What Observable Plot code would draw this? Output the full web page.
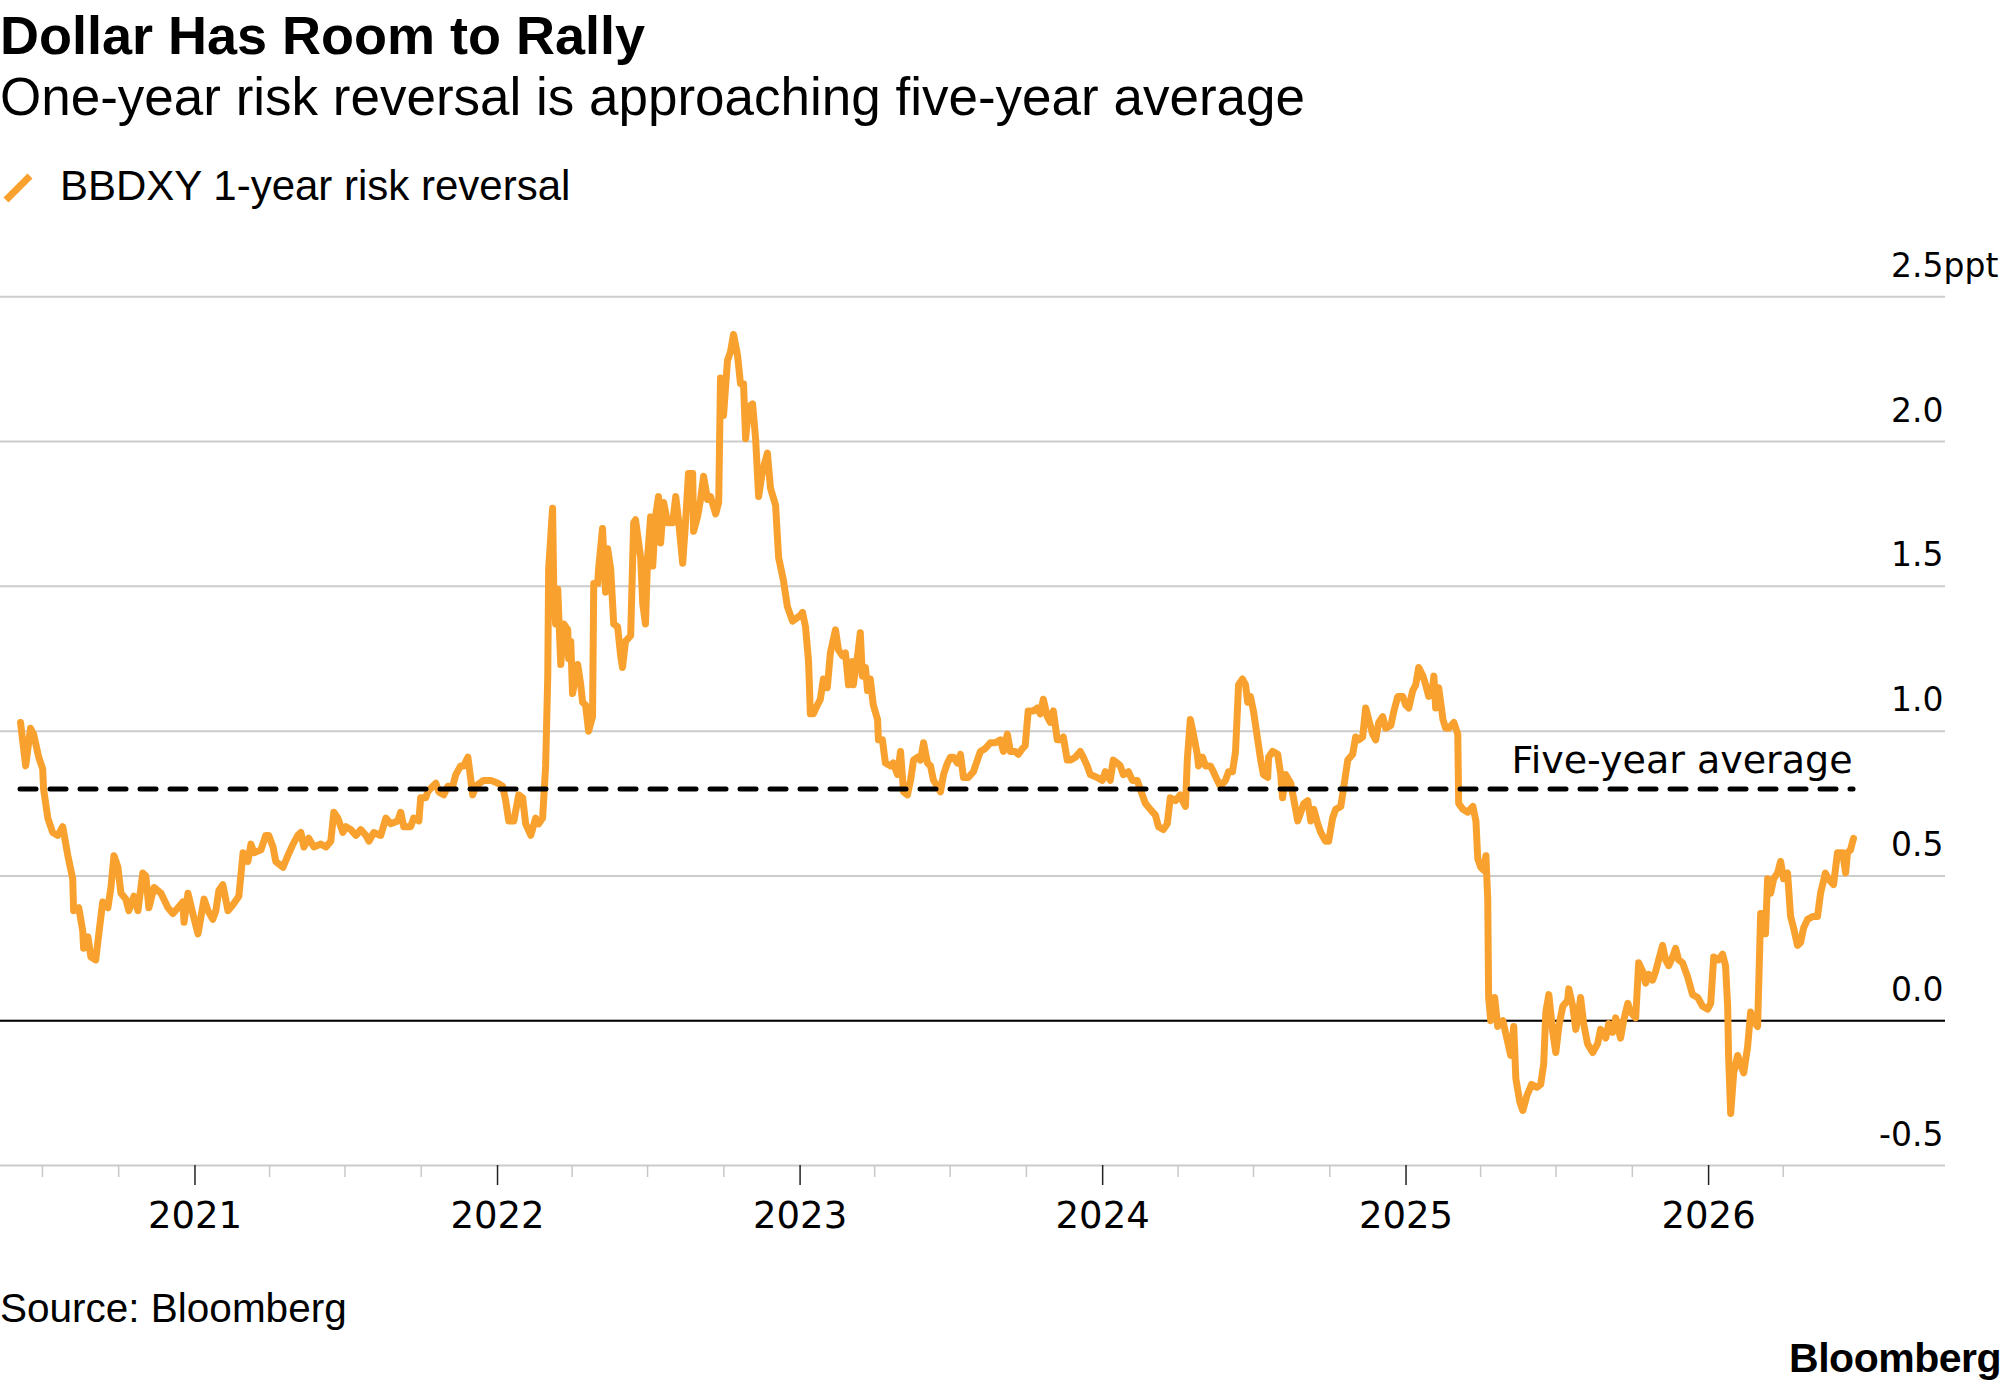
<!DOCTYPE html>
<html><head><meta charset="utf-8">
<script src="https://cdn.jsdelivr.net/npm/d3@7"></script>
<script src="https://cdn.jsdelivr.net/npm/@observablehq/plot@0.6"></script>
<style>
html,body{margin:0;padding:0;background:#fff;}
#root{position:relative;width:2005px;height:1392px;overflow:hidden;background:#fff;color:#000;}
.t{position:absolute;white-space:nowrap;line-height:1;margin:0;}
#title{left:0;top:8px;font-weight:bold;font-size:54px;font-family:"Liberation Sans",Arial,sans-serif;}
#subtitle{left:0;top:70px;font-size:53px;font-family:"Liberation Sans",Arial,sans-serif;}
#legend-swatch{position:absolute;left:0;top:168px;}
#legend-text{left:60px;top:165px;font-size:42px;font-family:"Liberation Sans",Arial,sans-serif;}
#chart{position:absolute;left:0;top:240px;}
#source{left:0;top:1288px;font-size:40.5px;font-family:"Liberation Sans",Arial,sans-serif;}
#logo{right:4px;top:1338px;font-size:41px;font-weight:bold;font-family:"Liberation Sans",Arial,sans-serif;letter-spacing:-0.5px;}
</style></head>
<body>
<div id="root">
  <div class="t" id="title"></div>
  <div class="t" id="subtitle"></div>
  <svg id="legend-swatch" width="40" height="40"><line id="swatch-line" x1="6" y1="32" x2="30" y2="8" stroke-width="7"/></svg>
  <div class="t" id="legend-text"></div>
  <div id="chart"></div>
  <div class="t" id="source"></div>
  <div class="t" id="logo"></div>
</div>
<script>
// ---- text ----
const titleText = "Dollar Has Room to Rally";
const subtitleText = "One-year risk reversal is approaching five-year average";
const seriesName = "BBDXY 1-year risk reversal";
const sourceText = "Source: Bloomberg";
const logoText = "Bloomberg";
const averageLabel = "Five-year average";
const lineColor = "#f9a12e";

// ---- data (dates as decimal years, values in ppt) ----
const decimalYear = [
2020.425,2020.442,2020.458,2020.468,2020.485,2020.498,2020.501,2020.515,2020.531,2020.548,2020.564,2020.581,2020.597,2020.600,2020.617,2020.630,2020.633,2020.647,2020.657,2020.673,
2020.683,2020.696,2020.713,2020.723,2020.733,2020.746,2020.756,2020.772,2020.782,2020.799,2020.812,2020.828,2020.838,2020.848,2020.865,2020.888,2020.911,2020.927,2020.944,2020.960,
2020.964,2020.977,2020.993,2021.010,2021.030,2021.043,2021.059,2021.069,2021.079,2021.092,2021.109,2021.125,2021.145,2021.159,2021.175,2021.185,2021.195,2021.218,2021.234,2021.244,
2021.258,2021.267,2021.291,2021.307,2021.324,2021.340,2021.350,2021.360,2021.376,2021.393,2021.416,2021.433,2021.449,2021.459,2021.472,2021.489,2021.499,2021.515,2021.532,2021.548,
2021.565,2021.575,2021.591,2021.614,2021.631,2021.647,2021.670,2021.680,
2021.690,2021.713,2021.723,2021.740,2021.746,2021.763,2021.769,2021.786,2021.796,2021.806,2021.822,2021.836,2021.852,2021.862,2021.878,2021.888,2021.902,2021.912,2021.918,2021.928,
2021.954,2021.978,2022.001,2022.017,2022.027,2022.037,2022.054,2022.070,2022.083,2022.093,2022.110,2022.126,2022.136,2022.149,2022.159,2022.166,2022.169,2022.182,2022.186,2022.192,
2022.199,2022.209,2022.219,2022.232,2022.235,2022.242,2022.248,2022.265,2022.275,2022.281,2022.291,2022.301,2022.314,2022.318,2022.331,2022.334,2022.347,2022.357,2022.364,2022.374,
2022.384,2022.397,2022.407,2022.413,2022.423,2022.440,2022.450,2022.456,2022.473,2022.480,2022.489,2022.496,2022.506,2022.513,2022.522,2022.532,2022.539,2022.549,2022.562,2022.579,
2022.589,2022.598,2022.612,2022.622,2022.631,2022.645,2022.648,2022.661,2022.671,2022.681,2022.694,2022.704,2022.721,2022.731,2022.737,2022.747,2022.760,2022.770,2022.780,2022.793,
2022.803,2022.813,2022.820,2022.830,2022.843,2022.853,2022.863,2022.876,2022.892,2022.902,2022.919,2022.929,2022.945,2022.958,2022.975,2023.001,
2023.008,2023.018,2023.028,2023.034,2023.044,2023.057,2023.067,2023.077,2023.090,2023.100,2023.117,2023.127,2023.140,2023.150,2023.160,2023.173,2023.176,2023.190,2023.199,2023.206,
2023.216,2023.223,2023.232,2023.242,2023.256,2023.259,2023.272,2023.282,2023.299,2023.308,2023.322,2023.332,2023.342,2023.355,2023.365,2023.375,2023.388,2023.398,2023.408,2023.421,
2023.431,2023.441,2023.454,2023.464,2023.474,2023.487,2023.497,2023.507,2023.520,2023.530,2023.540,2023.556,2023.573,2023.586,2023.596,2023.612,2023.629,2023.645,2023.662,2023.672,
2023.685,2023.695,2023.711,2023.721,2023.735,2023.744,2023.754,2023.771,2023.784,2023.794,2023.804,2023.817,2023.827,2023.837,2023.850,2023.860,2023.870,2023.883,2023.893,2023.910,
2023.926,2023.936,2023.949,2023.959,2023.982,2023.999,2024.009,2024.025,2024.035,2024.048,2024.058,2024.068,2024.085,2024.098,2024.114,2024.124,2024.141,2024.157,2024.174,2024.184,
2024.200,2024.213,2024.223,2024.240,2024.256,
2024.263,2024.273,2024.279,2024.289,2024.299,2024.312,2024.316,2024.329,2024.339,2024.355,2024.365,2024.378,2024.388,2024.405,2024.415,2024.428,2024.438,2024.448,2024.461,2024.471,
2024.478,2024.487,2024.497,2024.511,2024.521,2024.530,2024.544,2024.547,2024.560,2024.577,2024.587,2024.593,2024.603,2024.620,2024.629,2024.643,2024.653,2024.663,2024.676,2024.686,
2024.696,2024.709,2024.719,2024.735,2024.745,2024.758,2024.768,2024.785,2024.795,2024.808,2024.824,2024.834,2024.844,2024.857,2024.867,2024.877,2024.890,2024.900,2024.910,2024.923,
2024.933,2024.950,2024.960,2024.973,2024.989,2024.999,2025.009,2025.022,2025.032,2025.042,2025.056,2025.065,2025.075,2025.089,2025.092,2025.098,2025.108,2025.122,2025.131,2025.141,
2025.158,2025.171,2025.174,2025.188,2025.204,2025.221,2025.231,2025.237,2025.247,2025.257,2025.264,2025.270,
2025.273,2025.280,2025.293,2025.303,2025.320,2025.333,2025.346,2025.356,2025.363,2025.376,2025.386,2025.399,2025.415,2025.432,2025.445,
2025.455,2025.462,2025.472,2025.485,2025.495,2025.505,2025.518,2025.534,2025.538,2025.551,2025.561,2025.571,2025.577,2025.587,2025.600,2025.617,2025.633,2025.643,2025.660,2025.670,
2025.683,2025.693,2025.709,2025.719,2025.733,2025.742,2025.759,2025.769,2025.782,2025.792,2025.802,2025.815,2025.825,2025.835,2025.848,2025.858,2025.868,2025.881,2025.891,2025.901,
2025.914,2025.931,2025.947,2025.964,2025.980,2025.997,2026.007,2026.017,2026.033,2026.046,2026.056,2026.063,2026.066,2026.073,2026.083,2026.096,2026.106,2026.116,2026.129,2026.139,
2026.149,2026.162,2026.172,2026.182,2026.188,2026.195,2026.205,2026.215,2026.228,2026.238,2026.248,2026.261,2026.271,2026.281,2026.294,2026.304,2026.314,2026.327,2026.344,2026.360,
2026.370,2026.386,2026.396,2026.413,2026.426,2026.443,2026.453,2026.459,2026.469,2026.479
];
const riskReversal = [
1.03,0.88,1.01,0.99,0.91,0.87,0.80,0.70,0.65,0.64,0.67,0.57,0.49,0.38,0.39,0.31,0.25,0.29,0.22,0.21,
0.30,0.41,0.39,0.46,0.57,0.53,0.44,0.42,0.38,0.43,0.38,0.51,0.50,0.39,0.46,0.44,0.39,0.37,0.39,0.41,
0.34,0.44,0.37,0.30,0.42,0.38,0.35,0.38,0.45,0.47,0.38,0.40,0.43,0.58,0.55,0.61,0.58,0.59,0.64,0.64,
0.60,0.55,0.53,0.57,0.61,0.64,0.65,0.60,0.63,0.60,0.61,0.60,0.62,0.72,0.70,0.65,0.67,0.66,0.64,0.66,
0.64,0.62,0.65,0.64,0.70,0.68,0.69,0.72,
0.67,0.67,0.70,0.69,0.77,0.77,0.79,0.81,0.82,0.79,0.78,0.81,0.81,0.85,0.88,0.88,0.91,0.83,0.78,0.81,
0.83,0.83,0.82,0.81,0.76,0.69,0.69,0.78,0.77,0.68,0.64,0.70,0.68,0.70,0.88,1.19,1.56,1.77,1.48,1.37,
1.49,1.23,1.37,1.35,1.25,1.31,1.13,1.23,1.16,1.10,1.09,1.00,1.05,1.51,1.51,1.56,1.70,1.48,1.63,1.56,
1.37,1.36,1.26,1.22,1.31,1.33,1.72,1.73,1.60,1.44,1.37,1.60,1.74,1.57,1.74,1.81,1.65,1.79,1.72,1.72,
1.81,1.73,1.58,1.73,1.89,1.89,1.69,1.74,1.80,1.88,1.80,1.81,1.75,1.79,2.22,2.09,2.28,2.31,2.37,2.30,
2.20,2.20,2.01,2.12,2.13,2.01,1.81,1.90,1.96,1.84,1.78,1.60,1.52,1.43,1.38,1.40,
1.41,1.36,1.24,1.06,1.06,1.09,1.11,1.18,1.15,1.27,1.35,1.28,1.26,1.27,1.16,1.24,1.16,1.26,1.34,1.19,
1.22,1.14,1.18,1.09,1.04,0.97,0.97,0.89,0.88,0.89,0.85,0.93,0.79,0.78,0.83,0.90,0.91,0.90,0.96,0.89,
0.88,0.83,0.81,0.79,0.85,0.89,0.91,0.91,0.89,0.92,0.84,0.84,0.86,0.90,0.93,0.94,0.96,0.96,0.97,0.93,
0.99,0.93,0.93,0.92,0.94,0.95,1.07,1.07,1.08,1.06,1.11,1.05,1.03,1.07,0.97,0.97,0.98,0.90,0.90,0.91,
0.93,0.91,0.88,0.85,0.84,0.83,0.86,0.83,0.90,0.89,0.88,0.85,0.86,0.83,0.83,0.80,0.75,0.73,0.71,0.67,
0.66,0.68,0.77,0.76,0.78,
0.76,0.74,0.90,1.04,0.99,0.92,0.88,0.91,0.88,0.88,0.86,0.83,0.81,0.83,0.86,0.86,0.93,1.16,1.18,1.16,
1.10,1.12,1.07,0.97,0.90,0.85,0.84,0.91,0.93,0.92,0.85,0.77,0.85,0.82,0.77,0.69,0.72,0.75,0.76,0.69,
0.73,0.68,0.65,0.62,0.62,0.70,0.73,0.74,0.81,0.90,0.92,0.98,0.97,0.98,1.08,1.04,0.99,0.97,1.03,1.05,
1.01,1.02,1.07,1.12,1.12,1.09,1.08,1.14,1.16,1.22,1.19,1.16,1.12,1.16,1.19,1.08,1.15,1.04,1.01,1.01,
1.03,0.99,0.75,0.73,0.72,0.74,0.69,0.56,0.53,0.52,0.57,0.42,
0.08,0.00,0.08,-0.02,0.00,-0.06,-0.12,-0.02,-0.20,-0.28,-0.31,-0.26,-0.22,-0.23,-0.22,
-0.15,0.03,0.09,-0.04,-0.11,-0.02,0.05,0.07,0.11,0.05,-0.03,0.03,0.08,-0.01,-0.08,-0.11,-0.08,-0.03,-0.06,-0.01,
-0.04,0.01,-0.06,0.00,0.06,0.03,0.01,0.20,0.17,0.13,0.16,0.14,0.17,0.21,0.26,0.21,0.19,0.22,0.25,0.21,
0.20,0.15,0.09,0.08,0.05,0.04,0.06,0.22,0.21,0.23,0.19,0.05,-0.12,-0.32,-0.18,-0.12,-0.15,-0.18,-0.09,0.03,
0.00,-0.02,0.37,0.37,0.30,0.49,0.44,0.49,0.51,0.55,0.49,0.51,0.36,0.32,0.26,0.27,0.32,0.35,0.36,0.36,
0.44,0.51,0.49,0.47,0.58,0.58,0.51,0.58,0.59,0.63
];
const fiveYearAverage = 0.80;
const yTicks = [-0.5, 0, 0.5, 1.0, 1.5, 2.0, 2.5];
const yUnit = "ppt";
const tickYears = [2021, 2022, 2023, 2024, 2025, 2026];
const xStartYear = 2020.359, xEndYear = 2026.783;

// ---- build ----
const toDate = t => { const y = Math.floor(t); const a = Date.UTC(y,0,1), b = Date.UTC(y+1,0,1); return new Date(a + (t - y) * (b - a)); };
const data = decimalYear.map((t, i) => ({date: toDate(t), value: riskReversal[i]}));
const firstDate = data[0].date, lastDate = data[data.length - 1].date;
const yearTicks = tickYears.map(y => new Date(Date.UTC(y, 0, 1)));
const quarterTicks = d3.utcMonth.every(3).range(new Date(Date.UTC(2020,6,1)), new Date(Date.UTC(2026,4,1)))
  .filter(d => d.getUTCMonth() !== 0);

document.getElementById("title").textContent = titleText;
document.getElementById("subtitle").textContent = subtitleText;
document.getElementById("legend-text").textContent = seriesName;
document.getElementById("source").textContent = sourceText;
document.getElementById("logo").textContent = logoText;
document.getElementById("swatch-line").setAttribute("stroke", lineColor);

const chart = Plot.plot({
  width: 2005, height: 1010,
  marginLeft: 0, marginRight: 60, marginTop: 56.3, marginBottom: 85,
  style: {fontFamily: "DejaVu Sans", fontSize: "33px", color: "#000", background: "transparent", overflow: "visible"},
  x: {type: "utc", domain: [toDate(xStartYear), toDate(xEndYear)], label: null},
  y: {domain: [-0.5, 2.5], label: null},
  marks: [
    Plot.ruleY(yTicks, {stroke: "#cccccc", strokeWidth: 2}),
    Plot.ruleY([0], {stroke: "#000", strokeWidth: 2}),
    Plot.axisX({ticks: quarterTicks, tickSize: 12, stroke: "#c8c8c8", strokeWidth: 1.5, tickFormat: () => "", label: null}),
    Plot.axisX({ticks: yearTicks, tickSize: 20, tickPadding: 16, stroke: "#222", strokeWidth: 1.5, tickFormat: d3.utcFormat("%Y"), fontSize: 37, label: null}),
    Plot.axisY({ticks: yTicks, anchor: "right", tickSize: 0, tickPadding: 0, textAnchor: "end", lineAnchor: "bottom", dx: -2, dy: -20, fontSize: 33, tickFormat: d => d.toFixed(1), label: null}),
    Plot.text([yUnit], {y: () => 2.5, text: d => d, frameAnchor: "right", textAnchor: "start", lineAnchor: "bottom", dx: -2, dy: -20, fontSize: 33}),
    Plot.line(data, {x: "date", y: "value", stroke: lineColor, strokeWidth: 7, strokeLinejoin: "round", strokeLinecap: "round"}),
    Plot.ruleY([fiveYearAverage], {x1: () => firstDate, x2: () => lastDate, stroke: "#000", strokeWidth: 5, strokeDasharray: "16,14", strokeLinecap: "round"}),
    Plot.text([fiveYearAverage], {x: () => lastDate, y: d => d, text: () => averageLabel, textAnchor: "end", lineAnchor: "bottom", dx: -1, dy: -16, fontSize: 38})
  ]
});
document.getElementById("chart").appendChild(chart);
</script>
</body></html>
